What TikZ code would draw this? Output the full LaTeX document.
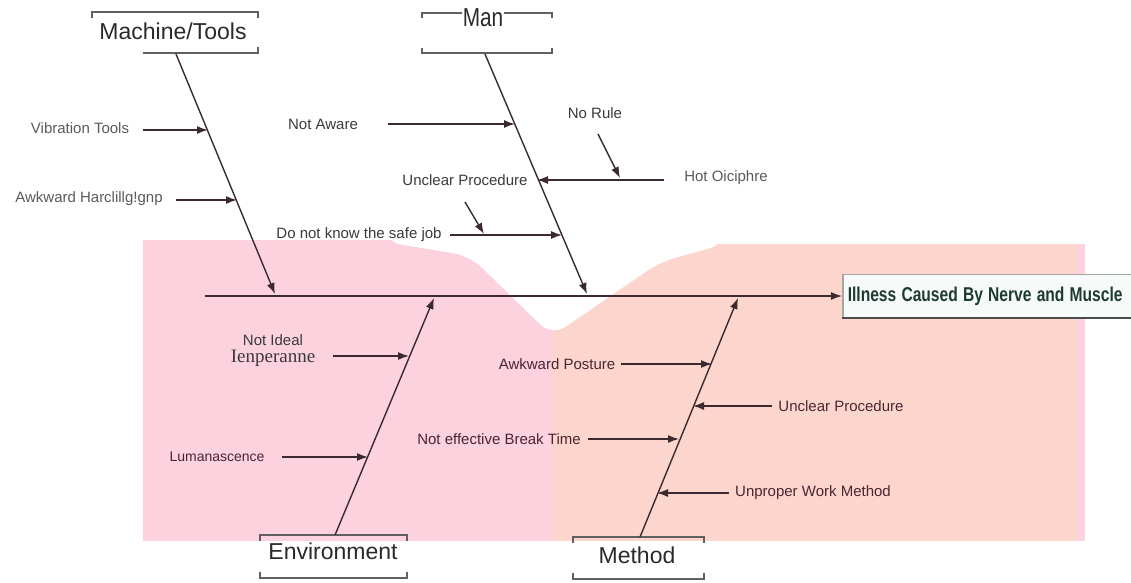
\documentclass[tikz,border=0pt]{standalone}
\usepackage{fontspec}
\setmainfont{Liberation Sans}
\newfontfamily\serifface{Liberation Serif}
\newfontfamily\narrowface[FakeStretch=0.8]{Liberation Sans}
\usetikzlibrary{arrows.meta}
\definecolor{pinkbg}{HTML}{FBD2DE}
\definecolor{peachbg}{HTML}{FCD6CD}
\definecolor{linec}{HTML}{3A2A2F}
\definecolor{darkc}{HTML}{3A3A3A}
\definecolor{maroonc}{HTML}{4A2632}
\definecolor{grayc}{HTML}{5A5A5A}
\definecolor{catc}{HTML}{2A2A2A}
\definecolor{effc}{HTML}{1E3A33}
\definecolor{effbg}{HTML}{F6FBF9}
\begin{document}
\begin{tikzpicture}[x=1pt,y=-1pt,
  tip/.style={-{Latex[length=11pt,width=8pt]}},
  bone/.style={draw=linec,line width=1.4pt,tip},
  subarrow/.style={draw=linec,line width=1.4pt,tip},
  cat/.style={font=\fontsize{23}{26}\selectfont,text=catc,fill=white,inner sep=1pt},
  lbl/.style={font=\fontsize{15}{17}\selectfont,text=darkc,inner sep=0pt},
  mlbl/.style={lbl,text=maroonc},
  glbl/.style={lbl,text=grayc},
  brk/.style={draw=gray!75!black,line width=1.5pt},
]
\useasboundingbox (0,0) rectangle (1131,582);
% background
\fill[pinkbg] (143,240) rectangle (552,541);
\fill[peachbg] (552,244) rectangle (1076,541);
\fill[pinkbg] (1076,244) rectangle (1085,541);
\fill[white,rounded corners=16pt] (385,228) -- (385,242) -- (470,256) -- (552,336) -- (660,262) -- (725,244) -- (725,228) -- cycle;

% brackets of category boxes
\draw[brk] (92,18) -- (92,12) -- (258,12) -- (258,18);
\draw[brk] (143,53) -- (258,53) -- (258,47);
\draw[brk] (422,18) -- (422,13) -- (552,13) -- (552,18);
\draw[brk] (422,48) -- (422,53) -- (552,53) -- (552,48);
\draw[brk] (260,541) -- (260,535) -- (407,535) -- (407,541);
\draw[brk] (260,572) -- (260,578) -- (407,578) -- (407,572);
\draw[brk] (573,543) -- (573,537) -- (704,537) -- (704,543);
\draw[brk] (573,573) -- (573,579) -- (704,579) -- (704,573);

% category labels
\node[cat] (mach) at (173,31) {Machine/Tools};
\node[cat,font=\narrowface\fontsize{26}{28}\selectfont] (man) at (483,18) {Man};
\node[cat] (env) at (333,551) {Environment};
\node[cat] (meth) at (637,555) {Method};

% spine and effect
\node[anchor=west,draw=gray!70,line width=1.5pt,fill=effbg,minimum height=43pt,
      text width=300pt,align=left,inner xsep=5pt,text=effc,
      font=\bfseries\fontsize{20}{24}\selectfont] (eff) at (842,296)
      {\scalebox{0.78}[1]{Illness Caused By Nerve and Muscle}};
\draw[draw=gray!60!black,line width=1.6pt] (eff.south west) -- (eff.south east);
\coordinate (spL) at (205,296);
\draw[bone] (spL) -- (eff.west);

% bones
\coordinate (machB) at (176,54);
\coordinate (machT) at (275,294);
\draw[bone] (machB) -- (machT);
\coordinate (manB) at (485,54);
\coordinate (manT) at (587,294);
\draw[bone] (manB) -- (manT);
\coordinate (envB) at (335,535);
\coordinate (envT) at (434,298);
\draw[bone] (envB) -- (envT);
\coordinate (methB) at (640,537);
\coordinate (methT) at (738,298);
\draw[bone] (methB) -- (methT);

% Machine/Tools causes
\node[glbl] (vib) at (80,128) {Vibration Tools};
\coordinate (vibA) at (143,130); \coordinate (vibB) at (208,130);
\draw[subarrow] (vibA) -- (vibB);
\node[glbl] (awkh) at (89,199) {Awkward Harclillg!gnp};
\coordinate (awkhA) at (176,200); \coordinate (awkhB) at (237,200);
\draw[subarrow] (awkhA) -- (awkhB);

% Man causes
\node[lbl] (aware) at (323,124) {Not Aware};
\coordinate (awareA) at (388,124); \coordinate (awareB) at (515,124);
\draw[subarrow] (awareA) -- (awareB);
\node[lbl] (unc1) at (465,180) {Unclear Procedure};
\node[glbl] (hot) at (726,178) {Hot Oiciphre};
\coordinate (hotA) at (664,180); \coordinate (hotB) at (537,180);
\draw[subarrow] (hotA) -- (hotB);
\node[lbl] (rule) at (595,113) {No Rule};
\coordinate (ruleA) at (598,134); \coordinate (ruleB) at (620,178);
\draw[subarrow] (ruleA) -- (ruleB);
\node[lbl] (safe) at (359,235) {Do not know the safe job};
\coordinate (safeA) at (450,235); \coordinate (safeB) at (562,235);
\draw[subarrow] (safeA) -- (safeB);
\coordinate (safeC) at (465,202); \coordinate (safeD) at (484,234);
\draw[subarrow] (safeC) -- (safeD);

% Environment causes
\node[lbl] (ideal) at (273,340) {Not Ideal};
\node[lbl,font=\serifface\fontsize{19}{21}\selectfont] (temp) at (273,358) {Ienperanne};
\coordinate (tempA) at (333,356); \coordinate (tempB) at (409,356);
\draw[subarrow] (tempA) -- (tempB);
\node[mlbl,font=\fontsize{14}{16}\selectfont] (lum) at (217,457) {Lumanascence};
\coordinate (lumA) at (282,457); \coordinate (lumB) at (368,457);
\draw[subarrow] (lumA) -- (lumB);

% Method causes
\node[mlbl] (post) at (557,364) {Awkward Posture};
\coordinate (postA) at (621,364); \coordinate (postB) at (712,364);
\draw[subarrow] (postA) -- (postB);
\node[mlbl] (unc2) at (841,406) {Unclear Procedure};
\coordinate (unc2A) at (772,406); \coordinate (unc2B) at (693,406);
\draw[subarrow] (unc2A) -- (unc2B);
\node[mlbl] (brk) at (499,439) {Not effective Break Time};
\coordinate (brkA) at (588,439); \coordinate (brkB) at (679,439);
\draw[subarrow] (brkA) -- (brkB);
\node[mlbl] (unp) at (813,493) {Unproper Work Method};
\coordinate (unpA) at (729,493); \coordinate (unpB) at (657,493);
\draw[subarrow] (unpA) -- (unpB);
\end{tikzpicture}
\end{document}
